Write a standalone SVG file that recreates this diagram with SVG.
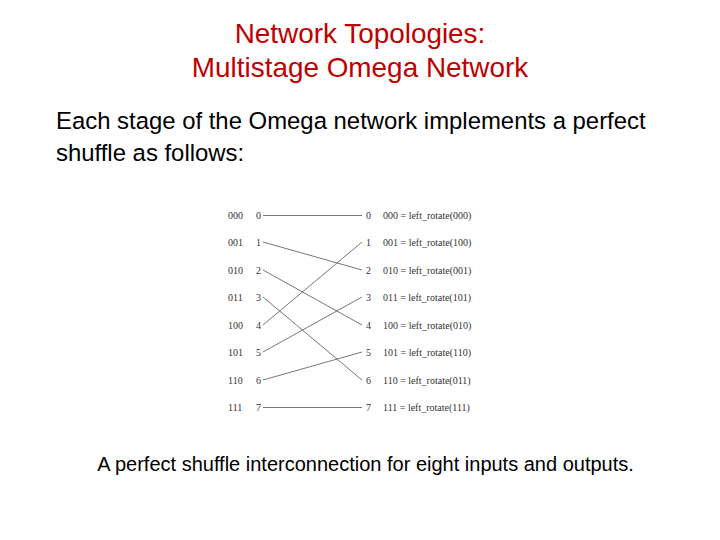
<svg xmlns="http://www.w3.org/2000/svg" width="720" height="540" viewBox="0 0 720 540">
<style>
.t{font-family:"Liberation Sans",Arial,sans-serif}
.s{font-family:"Liberation Serif","Times New Roman",serif;font-size:10px;fill:#333}
.c line{stroke:#777;stroke-width:1}
</style>
<rect width="720" height="540" fill="#fff"/>
<g id="title" class="t" fill="#c00000" font-size="27.9" text-anchor="middle">
<text x="360" y="43">Network Topologies:</text>
<text x="360" y="77">Multistage Omega Network</text>
</g>
<g id="body" class="t" font-size="23.9" fill="#000">
<text x="56" y="129">Each stage of the Omega network implements a perfect</text>
<text x="56" y="161">shuffle as follows:</text>
</g>
<g id="inputs" class="s">
<text x="228" y="219">000</text><text x="256" y="219">0</text>
<text x="228" y="246">001</text><text x="256" y="246">1</text>
<text x="228" y="274">010</text><text x="256" y="274">2</text>
<text x="228" y="301">011</text><text x="256" y="301">3</text>
<text x="228" y="329">100</text><text x="256" y="329">4</text>
<text x="228" y="356">101</text><text x="256" y="356">5</text>
<text x="228" y="384">110</text><text x="256" y="384">6</text>
<text x="228" y="411">111</text><text x="256" y="411">7</text>
</g>
<g id="outputs" class="s">
<text x="366" y="219">0</text><text x="383" y="219">000 = left_rotate(000)</text>
<text x="366" y="246">1</text><text x="383" y="246">001 = left_rotate(100)</text>
<text x="366" y="274">2</text><text x="383" y="274">010 = left_rotate(001)</text>
<text x="366" y="301">3</text><text x="383" y="301">011 = left_rotate(101)</text>
<text x="366" y="329">4</text><text x="383" y="329">100 = left_rotate(010)</text>
<text x="366" y="356">5</text><text x="383" y="356">101 = left_rotate(110)</text>
<text x="366" y="384">6</text><text x="383" y="384">110 = left_rotate(011)</text>
<text x="366" y="411">7</text><text x="383" y="411">111 = left_rotate(111)</text>
</g>
<g id="connectors" class="c">
<line x1="263" y1="215.5" x2="362" y2="215.5"/>
<line x1="263" y1="242" x2="362" y2="270"/>
<line x1="263" y1="270" x2="362" y2="325"/>
<line x1="263" y1="297" x2="362" y2="380"/>
<line x1="263" y1="325" x2="362" y2="242"/>
<line x1="263" y1="352" x2="362" y2="297"/>
<line x1="263" y1="380" x2="362" y2="352"/>
<line x1="263" y1="407.5" x2="362" y2="407.5"/>
</g>
<g id="caption" class="t" font-size="20" fill="#000">
<text x="365.5" y="471" text-anchor="middle">A perfect shuffle interconnection for eight inputs and outputs.</text>
</g>
</svg>
